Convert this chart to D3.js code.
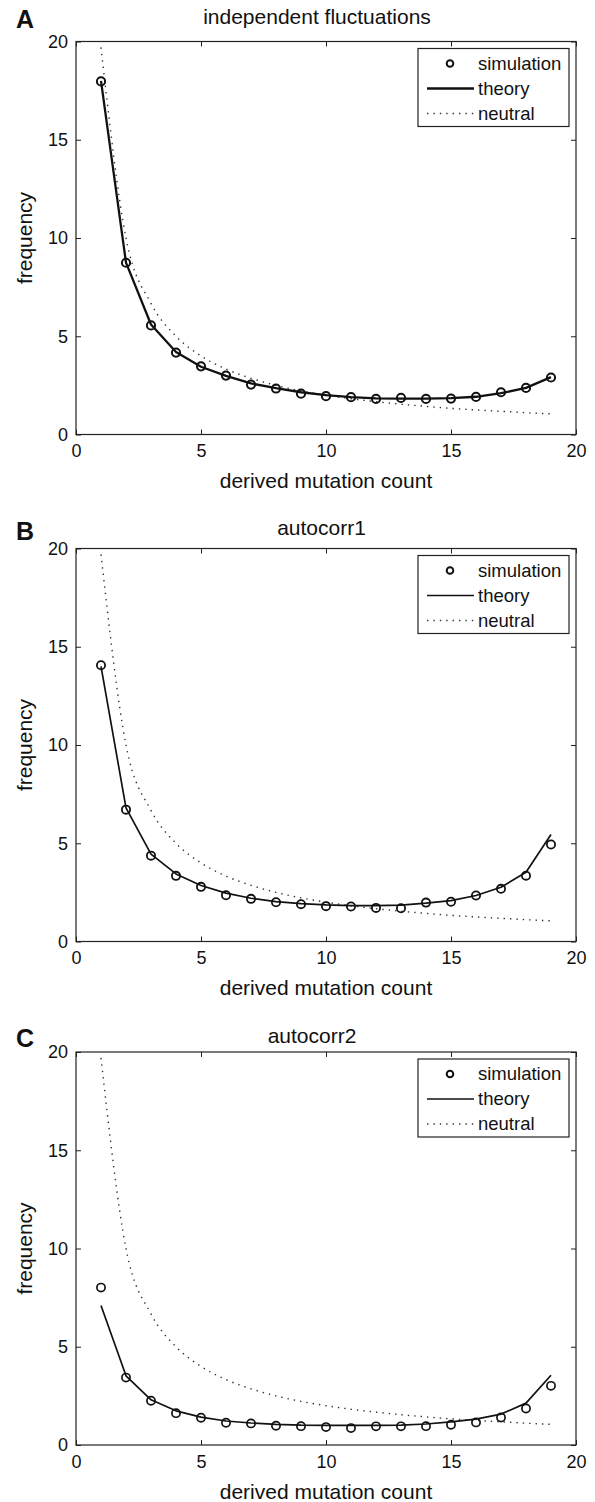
<!DOCTYPE html>
<html>
<head>
<meta charset="utf-8">
<script src="https://cdn.jsdelivr.net/npm/d3@7"></script>
<style>
  body { margin: 0; background: #fff; }
  svg { display: block; }
</style>
</head>
<body>
<svg id="fig" width="595" height="1502"></svg>
<script>
// Derived mutation counts (site frequency classes)
const counts = [1, 2, 3, 4, 5, 6, 7, 8, 9, 10, 11, 12, 13, 14, 15, 16, 17, 18, 19];

// Neutral expectation, shared by all three panels
const neutral = [19.7, 10.0, 6.67, 5.0, 4.0, 3.33, 2.86, 2.5, 2.22, 2.0, 1.82, 1.67, 1.54, 1.43, 1.33, 1.25, 1.18, 1.11, 1.05];

// Panel A: independent fluctuations
const simIndependent    = [17.97, 8.74, 5.55, 4.17, 3.47, 3.0, 2.54, 2.34, 2.08, 1.95, 1.9, 1.81, 1.86, 1.81, 1.83, 1.91, 2.15, 2.37, 2.9];
const theoryIndependent = [18.0, 8.75, 5.6, 4.2, 3.45, 2.98, 2.6, 2.36, 2.15, 2.0, 1.9, 1.84, 1.83, 1.83, 1.85, 1.92, 2.1, 2.37, 2.92];

// Panel B: autocorr1
const simAuto1    = [14.06, 6.71, 4.37, 3.34, 2.78, 2.35, 2.17, 2.0, 1.9, 1.8, 1.78, 1.71, 1.69, 1.98, 2.02, 2.34, 2.68, 3.35, 4.94];
const theoryAuto1 = [14.0, 6.8, 4.45, 3.44, 2.85, 2.46, 2.2, 2.03, 1.93, 1.86, 1.83, 1.83, 1.85, 1.95, 2.08, 2.34, 2.76, 3.52, 5.45];

// Panel C: autocorr2
const simAuto2    = [8.01, 3.43, 2.25, 1.62, 1.39, 1.13, 1.1, 0.98, 0.96, 0.91, 0.86, 0.95, 0.95, 0.96, 1.03, 1.15, 1.4, 1.86, 3.01];
const theoryAuto2 = [7.1, 3.52, 2.3, 1.74, 1.42, 1.22, 1.12, 1.05, 1.01, 1.0, 1.0, 1.0, 1.01, 1.07, 1.18, 1.32, 1.57, 2.13, 3.55];

const panelLetters = ["A", "B", "C"];
const panelTitles = ["independent fluctuations", "autocorr1", "autocorr2"];
const xTickValues = [0, 5, 10, 15, 20];
const yTickValues = [0, 5, 10, 15, 20];
const legendLabels = ["simulation", "theory", "neutral"];
const xLabel = "derived mutation count";
const yLabel = "frequency";

const simSeries = [simIndependent, simAuto1, simAuto2];
const theorySeries = [theoryIndependent, theoryAuto1, theoryAuto2];

// Page layout for the three stacked panels
const FONT = "'Liberation Sans', Arial, Helvetica, sans-serif";
const plotLeft = 76, plotRight = 576, plotHeight = 393;
const panels = [
  { top: 41.5,  letterY: 28.3, titleY: 24.3,   titleX: 317,   theoryWidth: 2.3, circleWidth: 2.0 },
  { top: 548.5, letterY: 540,  titleY: 535,    titleX: 321.5, theoryWidth: 1.7, circleWidth: 1.8 },
  { top: 1052,  letterY: 1047, titleY: 1042.7, titleX: 312,   theoryWidth: 1.7, circleWidth: 1.7 }
];

const svg = d3.select("#fig");
const x = d3.scaleLinear().domain([0, 20]).range([plotLeft, plotRight]);

panels.forEach((p, i) => {
  const y = d3.scaleLinear().domain([0, 20]).range([p.top + plotHeight, p.top]);
  const g = svg.append("g");

  const clipId = "clip" + i;
  svg.append("clipPath").attr("id", clipId)
    .append("rect")
    .attr("x", plotLeft).attr("y", p.top)
    .attr("width", plotRight - plotLeft).attr("height", plotHeight);

  // Axes with inward ticks on all four sides
  const styleAxis = sel => {
    sel.select(".domain").remove();
    sel.selectAll("line").attr("stroke", "#222").attr("stroke-width", 1);
    sel.selectAll("text").attr("fill", "#111").style("font-family", FONT).style("font-size", "18px");
  };
  g.append("g").attr("transform", `translate(0,${p.top + plotHeight})`)
    .call(d3.axisBottom(x).tickValues(xTickValues).tickSizeInner(-5).tickSizeOuter(0).tickPadding(10).tickFormat(d3.format("d")))
    .call(styleAxis);
  g.append("g").attr("transform", `translate(${plotLeft},0)`)
    .call(d3.axisLeft(y).tickValues(yTickValues).tickSizeInner(-5).tickSizeOuter(0).tickPadding(8).tickFormat(d3.format("d")))
    .call(styleAxis);
  g.append("g").attr("transform", `translate(0,${p.top})`)
    .call(d3.axisTop(x).tickValues(xTickValues).tickSizeInner(-5).tickSizeOuter(0).tickFormat(""))
    .call(styleAxis);
  g.append("g").attr("transform", `translate(${plotRight},0)`)
    .call(d3.axisRight(y).tickValues(yTickValues).tickSizeInner(-5).tickSizeOuter(0).tickFormat(""))
    .call(styleAxis);

  // Plot frame
  g.append("rect")
    .attr("x", plotLeft).attr("y", p.top)
    .attr("width", plotRight - plotLeft).attr("height", plotHeight)
    .attr("fill", "none").attr("stroke", "#222").attr("stroke-width", 1.2);

  const marks = g.append("g").attr("clip-path", `url(#${clipId})`);

  // Neutral expectation (dotted)
  const neutralLine = d3.line().x((d, k) => x(counts[k])).y(d => y(d)).curve(d3.curveMonotoneX);
  marks.append("path")
    .datum(neutral)
    .attr("d", neutralLine)
    .attr("fill", "none").attr("stroke", "#333").attr("stroke-width", 1.4)
    .attr("stroke-dasharray", "1.4,5");

  // Theory (solid)
  const theoryLine = d3.line().x((d, k) => x(counts[k])).y(d => y(d));
  marks.append("path")
    .datum(theorySeries[i])
    .attr("d", theoryLine)
    .attr("fill", "none").attr("stroke", "#111").attr("stroke-width", p.theoryWidth)
    .attr("stroke-linejoin", "round");

  // Simulation (open circles)
  marks.selectAll("circle.sim")
    .data(simSeries[i])
    .join("circle")
    .attr("class", "sim")
    .attr("cx", (d, k) => x(counts[k]))
    .attr("cy", d => y(d))
    .attr("r", 4.1)
    .attr("fill", "none").attr("stroke", "#111").attr("stroke-width", p.circleWidth);

  // Panel letter and title
  g.append("text")
    .attr("x", 16).attr("y", p.letterY)
    .style("font-family", FONT).style("font-size", "25px").style("font-weight", "bold")
    .attr("fill", "#111")
    .text(panelLetters[i]);
  g.append("text")
    .attr("x", p.titleX).attr("y", p.titleY)
    .attr("text-anchor", "middle")
    .style("font-family", FONT).style("font-size", "21px")
    .attr("fill", "#111")
    .text(panelTitles[i]);

  // Axis labels
  g.append("text")
    .attr("x", (plotLeft + plotRight) / 2).attr("y", p.top + plotHeight + 53.5)
    .attr("text-anchor", "middle")
    .style("font-family", FONT).style("font-size", "21px")
    .attr("fill", "#111")
    .text(xLabel);
  g.append("text")
    .attr("transform", `translate(32,${p.top + plotHeight / 2}) rotate(-90)`)
    .attr("text-anchor", "middle")
    .style("font-family", FONT).style("font-size", "21px")
    .attr("fill", "#111")
    .text(yLabel);

  // Legend
  const lg = g.append("g");
  const boxLeft = 418, boxRight = 569, boxTop = p.top + 7, boxBottom = p.top + 85;
  lg.append("rect")
    .attr("x", boxLeft).attr("y", boxTop)
    .attr("width", boxRight - boxLeft).attr("height", boxBottom - boxTop)
    .attr("fill", "#fff").attr("stroke", "#222").attr("stroke-width", 1.2);
  const rowY = [p.top + 22, p.top + 47, p.top + 72];
  lg.append("circle")
    .attr("cx", 450).attr("cy", rowY[0]).attr("r", 3.3)
    .attr("fill", "none").attr("stroke", "#111").attr("stroke-width", 2);
  lg.append("line")
    .attr("x1", 427).attr("x2", 474).attr("y1", rowY[1]).attr("y2", rowY[1])
    .attr("stroke", "#111").attr("stroke-width", p.theoryWidth);
  lg.append("line")
    .attr("x1", 427).attr("x2", 474).attr("y1", rowY[2]).attr("y2", rowY[2])
    .attr("stroke", "#333").attr("stroke-width", 1.4).attr("stroke-dasharray", "1.4,5");
  lg.selectAll("text.lab")
    .data(legendLabels)
    .join("text")
    .attr("class", "lab")
    .attr("x", 478).attr("y", (d, k) => rowY[k])
    .attr("dy", "0.35em")
    .style("font-family", FONT).style("font-size", "18.5px")
    .attr("fill", "#111")
    .text(d => d);
});
</script>
</body>
</html>
